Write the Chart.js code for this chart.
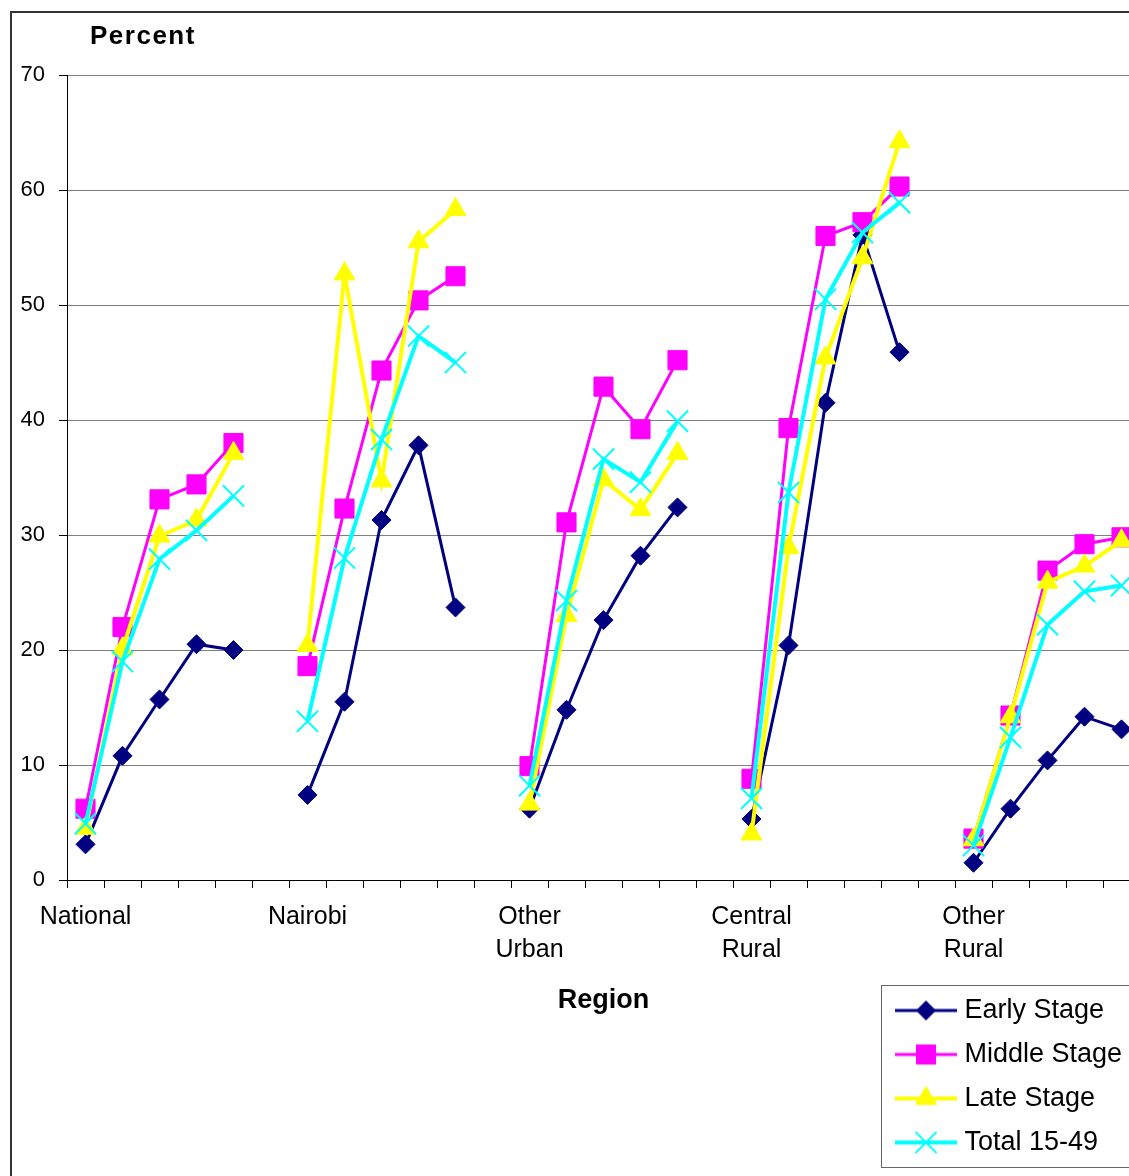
<!DOCTYPE html>
<html>
<head>
<meta charset="utf-8">
<title>Percent by Region</title>
<script src="https://cdn.jsdelivr.net/npm/chart.js@4.4.0/dist/chart.umd.min.js"></script>
<style>
  html, body { margin: 0; padding: 0; background: #ffffff; overflow: hidden; }
  #wrap { position: absolute; left: 0; top: 0; width: 1129px; height: 1176px; overflow: hidden; }
  canvas { display: block; }
</style>
</head>
<body>
<div id="wrap"><canvas id="chart" width="1160" height="1176"></canvas></div>
<script>
// Region groups (five points per region, one empty slot between regions)
const regions = ['National', 'Nairobi', ['Other', 'Urban'], ['Central', 'Rural'], ['Other', 'Rural']];
const pointsPerRegion = 5;

const earlyStage  = [3.1, 10.8, 15.7, 20.5, 20.0,   7.4, 15.5, 31.3, 37.8, 23.7,   6.2, 14.8, 22.6, 28.2, 32.4,   5.3, 20.4, 41.5, 56.1, 45.9,   1.5, 6.2, 10.4, 14.2, 13.1];
const middleStage = [6.2, 22.0, 33.1, 34.4, 38.0,  18.6, 32.3, 44.3, 50.4, 52.5,   9.9, 31.1, 42.9, 39.2, 45.2,   8.8, 39.3, 56.0, 57.2, 60.3,   3.6, 14.3, 26.9, 29.2, 29.8];
const lateStage   = [4.5, 20.1, 29.9, 31.3, 37.1,  20.4, 52.7, 34.7, 55.5, 58.3,   6.6, 23.0, 34.8, 32.2, 37.1,   4.0, 28.9, 45.4, 54.1, 64.2,   3.5, 14.2, 25.9, 27.3, 29.5];
const total1549   = [4.9, 19.0, 27.9, 30.4, 33.4,  13.8, 28.0, 38.3, 47.3, 45.0,   8.2, 24.3, 36.6, 34.6, 39.9,   7.1, 33.7, 50.5, 56.3, 58.9,   3.0, 12.4, 22.2, 25.1, 25.6];

const yTicks = [0, 10, 20, 30, 40, 50, 60, 70];

// Build the category list: region name on the first slot of each group, blanks elsewhere
const categories = [];
regions.forEach((r, gi) => {
  for (let k = 0; k < pointsPerRegion; k++) categories.push(k === 0 ? r : '');
  if (gi < regions.length - 1) categories.push('');
});

// Insert a null after each region so the lines break between groups
function withGaps(values) {
  const out = [];
  for (let i = 0; i < values.length; i++) {
    out.push(values[i]);
    if ((i + 1) % pointsPerRegion === 0 && i < values.length - 1) out.push(null);
  }
  return out;
}

const FONT = "'Liberation Sans', Arial, Helvetica, sans-serif";

const seriesStyle = [
  { label: 'Early Stage',  data: earlyStage,  color: '#000080', style: 'rectRot',  radius: 9.5, lw: 3, bw: 1, order: 4 },
  { label: 'Middle Stage', data: middleStage, color: '#FF00FF', style: 'rect',     radius: 13.5, lw: 3, bw: 1, order: 3 },
  { label: 'Late Stage',   data: lateStage,   color: '#FFFF00', style: 'triangle', radius: 12, lw: 4, bw: 1, order: 2 },
  { label: 'Total 15-49',  data: total1549,   color: '#00FFFF', style: 'crossRot', radius: 15, lw: 4, bw: 2, order: 1 }
];

// Legend symbol: a short line with the series marker in its middle
function legendIcon(s) {
  const c = document.createElement('canvas');
  c.width = 62; c.height = 26;
  const g = c.getContext('2d');
  g.strokeStyle = s.color;
  g.lineWidth = s.lw;
  g.beginPath(); g.moveTo(0, 13); g.lineTo(62, 13); g.stroke();
  g.fillStyle = s.color;
  g.strokeStyle = s.color;
  g.lineWidth = s.bw;
  Chart.helpers.drawPoint(g, { pointStyle: s.style, radius: s.radius, rotation: 0, borderWidth: s.bw }, 31, 13);
  return c;
}

const datasets = seriesStyle.map(s => ({
  label: s.label,
  data: withGaps(s.data),
  borderColor: s.color,
  backgroundColor: s.color,
  borderWidth: s.lw,
  pointStyle: s.style,
  pointRadius: s.radius,
  pointBorderWidth: s.bw,
  pointBorderColor: s.color,
  pointBackgroundColor: s.color,
  tension: 0,
  spanGaps: false,
  order: s.order,
  legendIcon: legendIcon(s)
}));

// Outer frame, axis heading and legend box
const decorations = {
  id: 'decorations',
  beforeDraw(chart) {
    const ctx = chart.ctx;
    ctx.save();
    ctx.fillStyle = '#ffffff';
    ctx.fillRect(0, 0, chart.width, chart.height);
    ctx.strokeStyle = '#333333';
    ctx.lineWidth = 2;
    ctx.strokeRect(11, 12, chart.width + 20, chart.height + 20);
    ctx.restore();
  },
  afterLayout(chart) {
    const lg = chart.legend;
    if (!lg) return;
    lg.left = 884; lg.top = 980;
    lg.right = chart.width; lg.bottom = chart.height;
    lg.width = lg.right - lg.left; lg.height = lg.bottom - lg.top;
  },
  afterDraw(chart) {
    const ctx = chart.ctx;
    const area = chart.chartArea;
    ctx.save();
    ctx.fillStyle = '#000000';
    ctx.font = 'bold 26px ' + FONT;
    if ('letterSpacing' in ctx) ctx.letterSpacing = '1.5px';
    ctx.textAlign = 'left';
    ctx.textBaseline = 'middle';
    ctx.fillText('Percent', area.left + 23, area.top - 38);
    ctx.restore();

    ctx.save();
    ctx.strokeStyle = '#666666';
    ctx.lineWidth = 1;
    ctx.strokeRect(881.5, 985.5, 400, 182);
    ctx.restore();
  }
};

new Chart(document.getElementById('chart'), {
  type: 'line',
  data: { labels: categories, datasets: datasets },
  plugins: [decorations],
  options: {
    responsive: false,
    animation: false,
    events: [],
    layout: { padding: { top: 75, left: 0, right: 20, bottom: 0 } },
    plugins: {
      title: { display: false },
      tooltip: { enabled: false },
      legend: {
        display: true,
        position: 'chartArea',
        align: 'start',
        labels: {
          usePointStyle: true,
          pointStyleWidth: 50,
          padding: 17,
          color: '#000000',
          font: { family: FONT, size: 27 },
          sort: (a, b) => a.datasetIndex - b.datasetIndex,
          generateLabels(chart) {
            return chart.data.datasets.map((ds, i) => ({
              text: ds.label,
              datasetIndex: i,
              pointStyle: ds.legendIcon,
              fillStyle: ds.borderColor,
              strokeStyle: ds.borderColor,
              lineWidth: 0,
              hidden: false,
              fontColor: '#000000'
            }));
          }
        }
      }
    },
    scales: {
      x: {
        type: 'category',
        offset: true,
        grid: {
          offset: true,
          drawOnChartArea: false,
          drawTicks: true,
          tickLength: 8,
          tickColor: '#000000',
          color: '#000000'
        },
        border: { display: true, color: '#000000', width: 1 },
        ticks: {
          autoSkip: false,
          maxRotation: 0,
          minRotation: 0,
          padding: 12,
          color: '#000000',
          font: { family: FONT, size: 25, lineHeight: 1.33 }
        },
        title: {
          display: true,
          text: 'Region',
          color: '#000000',
          font: { family: FONT, size: 27, weight: 'bold' },
          padding: { top: 0, bottom: 159 }
        },
        afterFit(scale) { scale.height = 296; }
      },
      y: {
        min: 0,
        max: 70,
        afterBuildTicks(scale) { scale.ticks = yTicks.map(v => ({ value: v })); },
        grid: {
          color: '#808080',
          lineWidth: 1,
          drawTicks: true,
          tickLength: 8,
          tickColor: '#000000'
        },
        border: { display: true, color: '#000000', width: 1 },
        ticks: {
          padding: 14,
          color: '#000000',
          font: { family: FONT, size: 22 }
        },
        afterFit(scale) { scale.width = 67; }
      }
    }
  }
});
</script>
</body>
</html>
